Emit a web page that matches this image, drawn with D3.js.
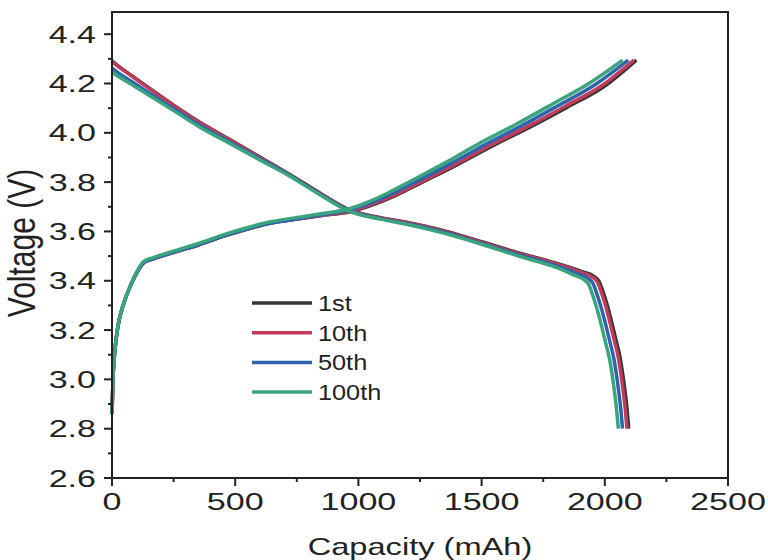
<!DOCTYPE html>
<html>
<head>
<meta charset="utf-8">
<script src="https://cdn.jsdelivr.net/npm/d3@7"></script>
<style>
  body { margin: 0; background: #fff; }
  text { font-family: "Liberation Sans", Arial, sans-serif; fill: #222; }
</style>
</head>
<body>
<svg class="chart"></svg>
<script>
// charge / discharge curves, [capacity mAh, voltage V]
var charge1st = [[0,2.86],[4,3.0],[12,3.12],[25,3.22],[45,3.3],[75,3.38],[105,3.44],[130,3.475],[170,3.49],[250,3.515],[350,3.545],[450,3.58],[550,3.61],[650,3.635],[750,3.65],[850,3.665],[967,3.68],[1050,3.705],[1150,3.745],[1250,3.795],[1400,3.87],[1550,3.95],[1700,4.025],[1850,4.105],[2000,4.19],[2128,4.295]];
var charge10th = [[0,2.86],[4,3.0],[12,3.12],[25,3.22],[45,3.3],[75,3.38],[105,3.44],[130,3.475],[170,3.49],[250,3.515],[350,3.545],[450,3.58],[550,3.61],[650,3.635],[750,3.65],[850,3.665],[965,3.682],[1045,3.707],[1145,3.747],[1245,3.797],[1395,3.873],[1543,3.953],[1692,4.028],[1840,4.108],[1990,4.193],[2118,4.295]];
var charge50th = [[0,2.86],[4,3.0],[12,3.12],[25,3.22],[45,3.3],[75,3.38],[105,3.44],[130,3.475],[170,3.49],[250,3.515],[350,3.545],[450,3.58],[550,3.61],[650,3.635],[750,3.65],[850,3.667],[960,3.686],[1035,3.71],[1130,3.75],[1230,3.8],[1375,3.875],[1520,3.955],[1665,4.03],[1810,4.11],[1960,4.195],[2095,4.295]];
var charge100th = [[0,2.86],[4,3.0],[12,3.12],[25,3.22],[45,3.3],[75,3.38],[105,3.445],[128,3.478],[168,3.494],[248,3.52],[348,3.55],[448,3.585],[548,3.615],[648,3.64],[748,3.656],[848,3.672],[955,3.69],[1025,3.714],[1118,3.755],[1215,3.805],[1355,3.88],[1495,3.96],[1640,4.035],[1785,4.115],[1935,4.2],[2072,4.295]];

var discharge1st = [[0,4.292],[30,4.267],[80,4.232],[150,4.182],[250,4.112],[358,4.042],[480,3.972],[600,3.902],[720,3.832],[850,3.752],[967,3.686],[1090,3.656],[1200,3.636],[1350,3.602],[1500,3.558],[1650,3.513],[1800,3.472],[1907,3.437],[1957,3.417],[1977,3.397],[1989,3.366],[2007,3.312],[2028,3.232],[2045,3.162],[2061,3.094],[2072,3.027],[2081,2.96],[2090,2.882],[2097,2.8]];
var discharge10th = [[0,4.29],[30,4.265],[80,4.23],[150,4.18],[250,4.11],[358,4.04],[480,3.97],[600,3.9],[720,3.83],[850,3.75],[967,3.685],[1090,3.655],[1200,3.635],[1350,3.6],[1500,3.555],[1650,3.51],[1800,3.47],[1900,3.435],[1950,3.415],[1970,3.395],[1982,3.364],[2000,3.31],[2021,3.23],[2038,3.16],[2054,3.092],[2065,3.025],[2074,2.958],[2083,2.88],[2090,2.8]];
var discharge50th = [[0,4.262],[30,4.24],[80,4.208],[150,4.162],[250,4.098],[358,4.03],[480,3.962],[600,3.895],[720,3.828],[850,3.748],[967,3.682],[1090,3.652],[1200,3.631],[1350,3.596],[1500,3.551],[1650,3.505],[1800,3.462],[1885,3.43],[1934,3.408],[1953,3.388],[1964,3.358],[1982,3.303],[2003,3.225],[2020,3.155],[2036,3.088],[2047,3.021],[2056,2.955],[2065,2.878],[2072,2.8]];
var discharge100th = [[0,4.246],[30,4.226],[80,4.196],[150,4.152],[250,4.09],[358,4.022],[480,3.956],[600,3.89],[720,3.825],[850,3.745],[967,3.68],[1090,3.65],[1200,3.628],[1350,3.592],[1500,3.548],[1650,3.5],[1800,3.455],[1870,3.425],[1917,3.403],[1936,3.383],[1947,3.353],[1965,3.298],[1986,3.22],[2003,3.15],[2019,3.084],[2030,3.018],[2039,2.952],[2048,2.876],[2055,2.8]];

var cycles = ['1st', '10th', '50th', '100th'];
var colors = ['#353535', '#c23c57', '#2f64ad', '#3aa47f'];
var chargeCurves = [charge1st, charge10th, charge50th, charge100th];
var dischargeCurves = [discharge1st, discharge10th, discharge50th, discharge100th];

var xMajor = [0, 500, 1000, 1500, 2000, 2500];
var xMinor = [250, 750, 1250, 1750, 2250];
var yMajor = [2.6, 2.8, 3.0, 3.2, 3.4, 3.6, 3.8, 4.0, 4.2, 4.4];
var yMinor = [2.7, 2.9, 3.1, 3.3, 3.5, 3.7, 3.9, 4.1, 4.3];

var width = 768, height = 560;
var stretch = 1.42;   // the original figure is widened

var svg = d3.select('.chart')
    .attr('width', width)
    .attr('height', height);

var x = d3.scaleLinear().domain([0, 2500]).range([112, 728]);
var y = d3.scaleLinear().domain([2.6, 4.49]).range([478, 12]);

var line = d3.line()
    .x(function(d) { return x(d[0]); })
    .y(function(d) { return y(d[1]); })
    .curve(d3.curveMonotoneX);

// curves
var curves = svg.append('g').attr('fill', 'none').attr('stroke-width', 3.5).attr('stroke-linejoin', 'round');
cycles.forEach(function(c, i) {
    curves.append('path')
        .attr('d', line(chargeCurves[i]))
        .attr('stroke', colors[i]);
    curves.append('path')
        .attr('d', line(dischargeCurves[i]))
        .attr('stroke', colors[i]);
});

// frame
svg.append('rect')
    .attr('x', x(0)).attr('y', y(4.49))
    .attr('width', x(2500) - x(0)).attr('height', y(2.6) - y(4.49))
    .attr('fill', 'none').attr('stroke', '#222').attr('stroke-width', 2);

// ticks
var ticks = svg.append('g').attr('stroke', '#222').attr('stroke-width', 2);
xMajor.forEach(function(v) {
    ticks.append('line').attr('x1', x(v)).attr('x2', x(v)).attr('y1', y(2.6)).attr('y2', y(2.6) + 8);
});
xMinor.forEach(function(v) {
    ticks.append('line').attr('x1', x(v)).attr('x2', x(v)).attr('y1', y(2.6)).attr('y2', y(2.6) + 4);
});
yMajor.forEach(function(v) {
    ticks.append('line').attr('x1', x(0) - 8).attr('x2', x(0)).attr('y1', y(v)).attr('y2', y(v));
});
yMinor.forEach(function(v) {
    ticks.append('line').attr('x1', x(0) - 4).attr('x2', x(0)).attr('y1', y(v)).attr('y2', y(v));
});

// tick labels
svg.append('g').selectAll('text').data(xMajor).enter()
    .append('text')
    .attr('transform', function(d) { return 'translate(' + x(d) + ',' + 510 + ') scale(' + stretch + ',1)'; })
    .attr('text-anchor', 'middle')
    .attr('font-size', 24)
    .text(function(d) { return d; });

svg.append('g').selectAll('text').data(yMajor).enter()
    .append('text')
    .attr('transform', function(d) { return 'translate(' + 96 + ',' + (y(d) + 8.5) + ') scale(' + stretch + ',1)'; })
    .attr('text-anchor', 'end')
    .attr('font-size', 24)
    .text(function(d) { return d3.format('.1f')(d); });

// axis titles
svg.append('text')
    .attr('transform', 'translate(420,555) scale(1.36,1)')
    .attr('text-anchor', 'middle')
    .attr('font-size', 24)
    .text('Capacity (mAh)');

svg.append('text')
    .attr('transform', 'translate(35,243) scale(1.3,1) rotate(-90)')
    .attr('text-anchor', 'middle')
    .attr('font-size', 30)
    .text('Voltage (V)');

// legend
var legend = svg.append('g').selectAll('g').data(cycles).enter()
    .append('g')
    .attr('transform', function(d, i) { return 'translate(252,' + (303 + i * 29.7) + ')'; });
legend.append('line')
    .attr('x1', 0).attr('x2', 60)
    .attr('stroke', function(d, i) { return colors[i]; })
    .attr('stroke-width', 3.5);
legend.append('text')
    .attr('transform', 'translate(66,8) scale(1.15,1)')
    .attr('font-size', 22)
    .text(function(d) { return d; });
</script>
</body>
</html>
